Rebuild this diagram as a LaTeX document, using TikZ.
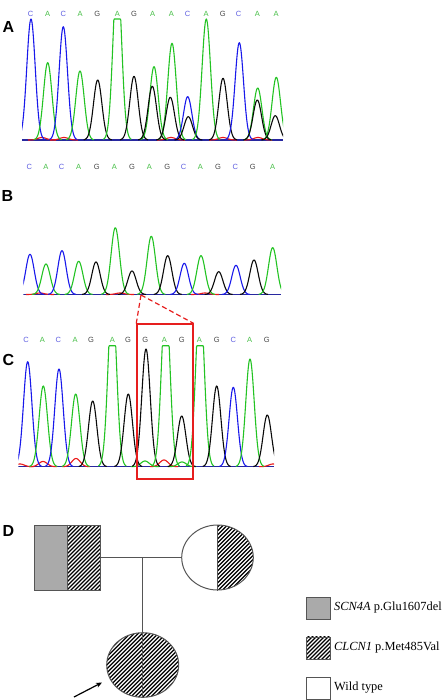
\documentclass[tikz,border=0pt]{standalone}
\usepackage{fontspec}
\setmainfont{Liberation Serif}
\setsansfont{Liberation Sans}
\usepackage{tikz}
\usetikzlibrary{positioning,arrows.meta,shapes.geometric}
\usepackage{xcolor}
\definecolor{TraceBlue}{RGB}{25,25,235}
\definecolor{TraceGreen}{RGB}{35,195,35}
\definecolor{TraceRed}{RGB}{235,25,25}
\definecolor{TraceBlack}{RGB}{10,10,10}
\definecolor{BaseBlue}{RGB}{40,40,160}
\definecolor{CallBlue}{RGB}{95,95,225}
\definecolor{CallGreen}{RGB}{70,190,70}
\definecolor{CallGray}{RGB}{70,70,70}
\definecolor{CarrierGray}{RGB}{170,170,170}
\definecolor{PedLine}{RGB}{85,85,85}
\definecolor{ZoomRed}{RGB}{230,30,30}

% one chromatogram peak: colour, centre x, baseline y, top y
\newcommand{\chrompeak}[4]{%
  \draw[trace, #1] plot[domain={#2-14}:{#2+14}, samples=57]
    (\x, {#3-(#3-#4)*exp(-0.5*((\x-#2)/4.2)^2)});}
% a peak cut off at the top of the window
\newcommand{\chromflat}[4]{%
  \draw[trace, #1] plot[domain={#2-14}:{#2+14}, samples=57]
    (\x, {max(#4, #3-(#3-#4)*1.4*exp(-0.5*((\x-#2)/4.2)^2))});}
\newcommand{\hatchlines}[2]{%
  \foreach \d in {-84,-80,...,84}
    {\draw[hatch] ({#1+\d-42},{#2+42}) -- ({#1+\d+42},{#2-42});}}

\begin{document}
\begin{tikzpicture}[
    x=1pt, y=-1pt,
    trace/.style={line width=1.1pt, line join=round},
    hatch/.style={line width=1.3pt, black},
    callC/.style={text=CallBlue, font=\sffamily\fontsize{7.5}{8}\selectfont, inner sep=0pt},
    callA/.style={text=CallGreen, font=\sffamily\fontsize{7.5}{8}\selectfont, inner sep=0pt},
    callG/.style={text=CallGray, font=\sffamily\fontsize{7.5}{8}\selectfont, inner sep=0pt},
    panel/.style={font=\sffamily\bfseries\fontsize{16}{16}\selectfont, inner sep=0pt},
    pedline/.style={draw=PedLine, line width=1pt},
    legendbox/.style={rectangle, draw=PedLine, line width=1pt, minimum width=24pt, minimum height=22pt, inner sep=0pt},
    legendtext/.style={font=\fontsize{12.4}{12}\selectfont, inner sep=0pt, anchor=west},
]
\useasboundingbox (0,0) rectangle (447,700);

\node[panel] (labA) at (8.5,27.5) {A};
\node[panel] (labB) at (7.5,196) {B};
\node[panel] (labC) at (8.3,360) {C};
\node[panel] (labD) at (8.3,531) {D};

\foreach \nt/\xx [count=\i] in {C/30.7,A/47.7,C/63.3,A/80,G/97.3,A/117.3,G/134,A/152.7,A/171.3,C/187.7,A/206,G/222.7,C/238.7,A/257.3,A/276}
  \node[call\nt] (ca\i) at (\xx,14) {\nt};
\foreach \nt/\xx [count=\i] in {C/29.3,A/46,C/61.7,A/78.7,G/96.7,A/114.3,G/132,A/149.3,G/167.3,C/183.7,A/200.3,G/218,C/235.3,G/252.7,A/272.7}
  \node[call\nt] (cr\i) at (\xx,167) {\nt};
\foreach \nt/\xx [count=\i] in {C/26,A/42.3,C/58.3,A/75,G/91,A/112.3,G/128,G/145.3,A/164.3,G/181.7,A/199.3,G/216.7,C/233.3,A/249.7,G/266.7}
  \node[call\nt] (cc\i) at (\xx,340) {\nt};

\begin{scope}
\clip (22,0) rectangle (283,145);
\draw[BaseBlue, line width=1.2pt] (22,140) -- (283,140);
\foreach \xx in {42,64,171,223,258}
  {\chrompeak{TraceRed}{\xx}{140}{137.5}}
\chrompeak{TraceBlue}{31}{140}{19}
\chrompeak{TraceGreen}{47.7}{140}{62.7}
\chrompeak{TraceBlue}{63.3}{140}{26.7}
\chrompeak{TraceGreen}{80}{140}{71}
\chrompeak{TraceBlack}{97.7}{140}{80}
\chromflat{TraceGreen}{117.3}{140}{19}
\chrompeak{TraceBlack}{134}{140}{76.3}
\chrompeak{TraceGreen}{154}{140}{66.7}
\chrompeak{TraceBlack}{152.3}{140}{86.3}
\chrompeak{TraceGreen}{172}{140}{43.3}
\chrompeak{TraceBlack}{170.3}{140}{97.3}
\chrompeak{TraceBlue}{187.7}{140}{96.7}
\chrompeak{TraceBlack}{188.3}{140}{116.7}
\chrompeak{TraceGreen}{206.3}{140}{19}
\chrompeak{TraceBlack}{223}{140}{78.3}
\chrompeak{TraceBlue}{239.3}{140}{42.7}
\chrompeak{TraceGreen}{257.7}{140}{88}
\chrompeak{TraceBlack}{257.3}{140}{100}
\chrompeak{TraceGreen}{276.3}{140}{77.3}
\chrompeak{TraceBlack}{275.3}{140}{115.7}
\end{scope}

\begin{scope}
\clip (23.3,200) rectangle (281,300);
\draw[BaseBlue, line width=1.3pt] (23.3,294.5) -- (281,294.5);
\foreach \xx in {40,120,205}
  {\chrompeak{TraceRed}{\xx}{294.5}{293}}
\chrompeak{TraceBlue}{30}{294.5}{254.3}
\chrompeak{TraceGreen}{46}{294.5}{264}
\chrompeak{TraceBlue}{62}{294.5}{250.7}
\chrompeak{TraceGreen}{78.7}{294.5}{261.3}
\chrompeak{TraceBlack}{96}{294.5}{262}
\chrompeak{TraceGreen}{115.3}{294.5}{227.7}
\chrompeak{TraceBlack}{132}{294.5}{271}
\chrompeak{TraceGreen}{151.3}{294.5}{236.3}
\chrompeak{TraceBlack}{167.7}{294.5}{255.7}
\chrompeak{TraceBlue}{184.3}{294.5}{263.3}
\chrompeak{TraceGreen}{201}{294.5}{255.7}
\chrompeak{TraceBlack}{218.7}{294.5}{271.7}
\chrompeak{TraceBlue}{236}{294.5}{265.3}
\chrompeak{TraceBlack}{254}{294.5}{260}
\chrompeak{TraceGreen}{272.7}{294.5}{247.7}
\end{scope}

\begin{scope}
\clip (18.3,340) rectangle (274,472);
\draw[BaseBlue, line width=1.2pt] (18.3,466.7) -- (274,466.7);
\foreach \xx/\yy in {20/464,43/461.5,76/458.5,164/460,273/464}
  {\chrompeak{TraceRed}{\xx}{466.7}{\yy}}
\chrompeak{TraceGreen}{145}{466.7}{461}
\chrompeak{TraceGreen}{182}{466.7}{462}
\chrompeak{TraceBlue}{27.7}{466.7}{361.7}
\chrompeak{TraceGreen}{43.3}{466.7}{386}
\chrompeak{TraceBlue}{59}{466.7}{369}
\chrompeak{TraceGreen}{75.7}{466.7}{394}
\chrompeak{TraceBlack}{92.7}{466.7}{401}
\chromflat{TraceGreen}{112.3}{466.7}{345.7}
\chrompeak{TraceBlack}{128.3}{466.7}{394}
\chrompeak{TraceBlack}{146}{466.7}{349}
\chromflat{TraceGreen}{165.7}{466.7}{345.7}
\chrompeak{TraceBlack}{181.7}{466.7}{416}
\chromflat{TraceGreen}{200}{466.7}{345.7}
\chrompeak{TraceBlack}{216.7}{466.7}{386}
\chrompeak{TraceBlue}{233.3}{466.7}{387.3}
\chrompeak{TraceGreen}{250}{466.7}{359}
\chrompeak{TraceBlack}{267.3}{466.7}{415}
\end{scope}

\coordinate (cut) at (141,295);
\node[draw=ZoomRed, line width=1.5pt, minimum width=56pt, minimum height=155pt, inner sep=0pt] (zoombox) at (165,401.7) {};
\draw[ZoomRed, line width=1.2pt, dash pattern=on 5pt off 3pt] (cut) -- (zoombox.north west);
\draw[ZoomRed, line width=1.2pt, dash pattern=on 5pt off 3pt] (cut) -- (zoombox.north east);

\fill[CarrierGray] (34,525) rectangle (67,590);
\begin{scope}
\clip (67,525) rectangle (100,590);
\hatchlines{83.5}{557.5}
\end{scope}
\node[rectangle, pedline, minimum width=66pt, minimum height=65pt, inner sep=0pt] (father) at (67,557.5) {};
\draw[pedline] (father.north) -- (father.south);

\begin{scope}
\clip (217.5,557.5) ellipse [x radius=35.8pt, y radius=32.5pt];
\clip (217.5,520) rectangle (260,600);
\hatchlines{235}{557.5}
\end{scope}
\node[ellipse, pedline, minimum width=71.6pt, minimum height=65pt, inner sep=0pt] (mother) at (217.5,557.5) {};
\draw[pedline] (mother.north) -- (mother.south);

\begin{scope}
\clip (142.7,665) ellipse [x radius=36pt, y radius=32.3pt];
\hatchlines{142.7}{665}
\end{scope}
\node[ellipse, pedline, minimum width=72pt, minimum height=64.6pt, inner sep=0pt] (child) at (142.7,665) {};
\draw[pedline] (child.north) -- (child.south);

\draw[pedline] (father.east) -- (mother.west);
\coordinate (sibship) at (142.7,557.5);
\draw[pedline] (sibship) -- (child.north);

\coordinate (probandtail) at (74,697);
\coordinate (probandtip) at (102,682.5);
\draw[black, line width=1.2pt, -{Stealth[length=6pt, width=5pt]}] (probandtail) -- (probandtip);

\node[legendbox, fill=CarrierGray] (keyscn) at (318,608) {};
\begin{scope}
\clip (306,636) rectangle (330,658);
\hatchlines{318}{647}
\end{scope}
\node[legendbox, below=17pt of keyscn] (keyclc) {};
\node[legendbox, below=17pt of keyclc] (keywt) {};
\node[legendtext, right=3.5pt of keyscn] (txtscn) {\textit{SCN4A} p.Glu1607del};
\node[legendtext, right=3.5pt of keyclc] (txtclc) {\textit{CLCN1} p.Met485Val};
\node[legendtext, right=3.5pt of keywt] (txtwt) {Wild type};
\end{tikzpicture}
\end{document}
